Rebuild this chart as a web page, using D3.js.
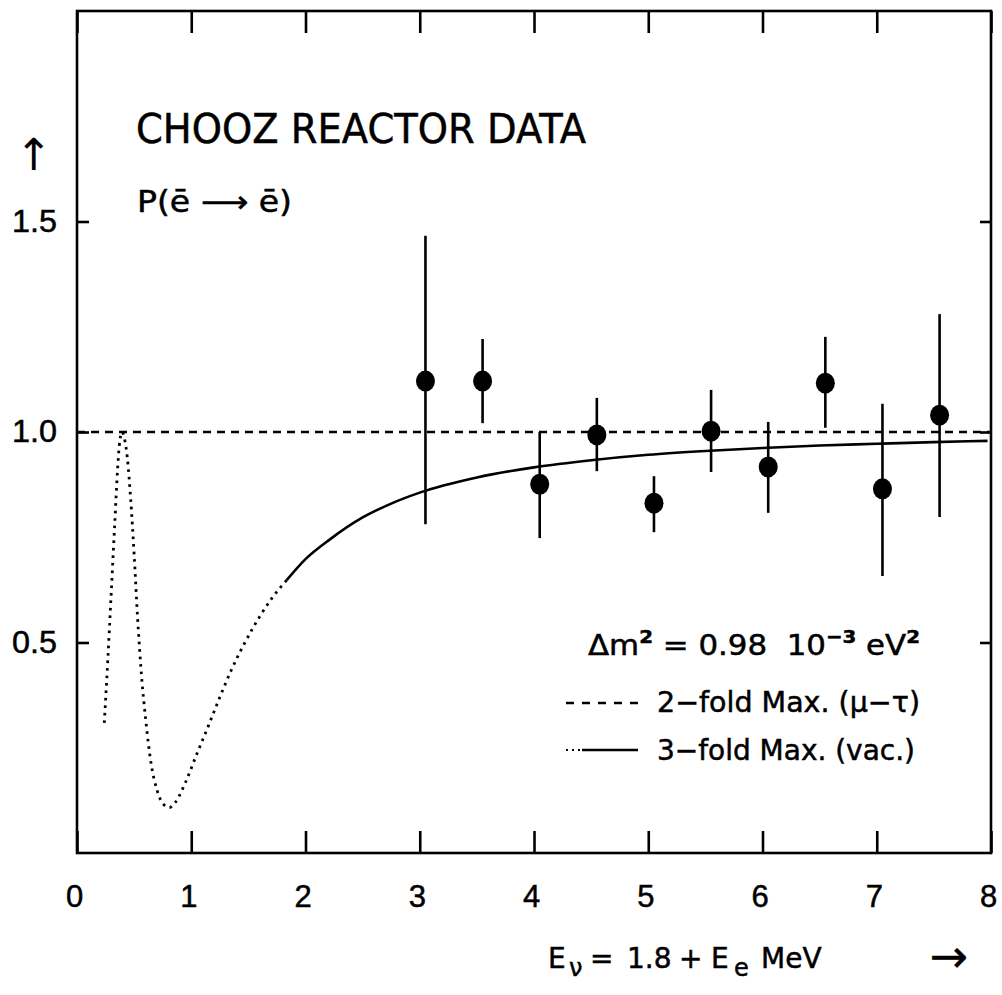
<!DOCTYPE html>
<html>
<head>
<meta charset="utf-8">
<script src="https://cdn.jsdelivr.net/npm/d3@7"></script>
<style>
  body { margin: 0; background: #fff; }
  svg { display: block; font-family: "DejaVu Sans", sans-serif; }
  text { white-space: pre; stroke: #000; stroke-width: 0.5px; }
</style>
</head>
<body>
<div id="chart"></div>
<script>
// measured points: neutrino energy (MeV), ratio, error bar ends
const energies = [3.05, 3.55, 4.05, 4.55, 5.05, 5.55, 6.05, 6.55, 7.05, 7.55];
const ratios   = [1.121, 1.121, 0.876, 0.993, 0.831, 1.002, 0.917, 1.116, 0.865, 1.040];
const errLow   = [0.781, 1.021, 0.748, 0.907, 0.762, 0.905, 0.808, 1.010, 0.658, 0.798];
const errHigh  = [1.466, 1.221, 1.000, 1.081, 0.895, 1.100, 1.024, 1.226, 1.067, 1.280];

// 3-fold maximal curve, dotted below the threshold, solid above
const dottedE = [0.239, 0.270, 0.300, 0.330, 0.355, 0.375, 0.395, 0.415, 0.440, 0.470, 0.500, 0.530,
                 0.565, 0.600, 0.650, 0.700, 0.750, 0.808, 0.860, 0.950, 1.050, 1.150, 1.250, 1.350,
                 1.470, 1.600, 1.700, 1.835];
const dottedP = [0.309, 0.460, 0.620, 0.780, 0.910, 0.980, 1.000, 0.985, 0.940, 0.840, 0.710, 0.560,
                 0.420, 0.320, 0.210, 0.150, 0.118, 0.108, 0.120, 0.168, 0.236, 0.302, 0.370, 0.434,
                 0.500, 0.562, 0.603, 0.648];
const solidE = [1.835, 2.0, 2.214, 2.5, 2.75, 3.0, 3.5, 4.0, 4.5, 5.0, 5.5, 6.0, 6.5, 7.0, 7.5, 7.97];
const solidP = [0.648, 0.698, 0.745, 0.797, 0.830, 0.856, 0.892, 0.916, 0.933, 0.946, 0.955, 0.962,
                0.968, 0.972, 0.976, 0.979];

// 2-fold maximal line
const twoFoldLevel = 1.0;

const xTicks = [0, 1, 2, 3, 4, 5, 6, 7, 8];
const yTicks = [0.5, 1.0, 1.5];

// pieces of the x axis title: text, left edge, subscript?
const xTitle = [["E", 548, false], ["ν", 569, true], ["=", 590, false], ["1.8", 627, false],
                ["+", 679, false], ["E", 711, false], ["e", 734, true], ["MeV", 761, false]];

const width = 1002, height = 995;
const marginLeft = 77, marginRight = 11, marginTop = 11, marginBottom = 142;

const x = d3.scaleLinear([0, 8], [marginLeft, width - marginRight]);
const y = d3.scaleLinear([0, 2], [height - marginBottom, marginTop]);

const svg = d3.select("#chart").append("svg")
    .attr("width", width)
    .attr("height", height)
    .attr("viewBox", [0, 0, width, height]);

const lw = 2.6;

// axes (ticks point inward)
svg.append("g")
    .attr("transform", `translate(0,${y(0)})`)
    .call(d3.axisBottom(x).tickValues(xTicks).tickSize(-22).tickPadding(32).tickFormat(d3.format("d")))
    .call(g => g.select(".domain").remove())
    .call(g => g.selectAll(".tick line").attr("stroke-width", lw))
    .call(g => g.selectAll(".tick text").attr("font-size", 31).attr("fill", "#000").attr("dx", -3));

svg.append("g")
    .attr("transform", `translate(0,${y(2)})`)
    .call(d3.axisTop(x).tickValues(xTicks).tickSize(-22).tickFormat(""))
    .call(g => g.select(".domain").remove())
    .call(g => g.selectAll(".tick line").attr("stroke-width", lw));

svg.append("g")
    .attr("transform", `translate(${x(0)},0)`)
    .call(d3.axisLeft(y).tickValues(yTicks).tickSize(-12).tickPadding(20).tickFormat(d3.format(".1f")))
    .call(g => g.select(".domain").remove())
    .call(g => g.selectAll(".tick line").attr("stroke-width", lw))
    .call(g => g.selectAll(".tick text").attr("font-size", 31).attr("fill", "#000")
        .attr("textLength", 45).attr("lengthAdjust", "spacingAndGlyphs"));

svg.append("g")
    .attr("transform", `translate(${x(8)},0)`)
    .call(d3.axisRight(y).tickValues(yTicks).tickSize(-11).tickFormat(""))
    .call(g => g.select(".domain").remove())
    .call(g => g.selectAll(".tick line").attr("stroke-width", lw));

// frame
svg.append("rect")
    .attr("x", x(0)).attr("y", y(2))
    .attr("width", x(8) - x(0)).attr("height", y(0) - y(2))
    .attr("fill", "none").attr("stroke", "#000").attr("stroke-width", lw);

// 2-fold line
svg.append("line")
    .attr("x1", x(0)).attr("x2", x(8))
    .attr("y1", y(twoFoldLevel)).attr("y2", y(twoFoldLevel))
    .attr("stroke", "#000").attr("stroke-width", lw)
    .attr("stroke-dasharray", "8,6");

// 3-fold curve
const line = d3.line()
    .curve(d3.curveMonotoneX)
    .x(i => i[0])
    .y(i => i[1]);

svg.append("path")
    .attr("d", line(dottedE.map((e, i) => [x(e), y(dottedP[i])])))
    .attr("fill", "none").attr("stroke", "#000").attr("stroke-width", 2.8)
    .attr("stroke-dasharray", "2.6,4.9");

svg.append("path")
    .attr("d", line(solidE.map((e, i) => [x(e), y(solidP[i])])))
    .attr("fill", "none").attr("stroke", "#000").attr("stroke-width", lw);

// error bars and points
const pts = svg.append("g");
pts.selectAll("line")
    .data(energies)
    .join("line")
    .attr("x1", (d) => x(d)).attr("x2", (d) => x(d))
    .attr("y1", (d, i) => y(errLow[i])).attr("y2", (d, i) => y(errHigh[i]))
    .attr("stroke", "#000").attr("stroke-width", lw);

pts.selectAll("ellipse")
    .data(energies)
    .join("ellipse")
    .attr("cx", d => x(d)).attr("cy", (d, i) => y(ratios[i]))
    .attr("rx", 9.5).attr("ry", 10.5)
    .attr("fill", "#000");

// labels
svg.append("text")
    .attr("x", 136).attr("y", 143)
    .attr("font-size", 41)
    .attr("textLength", 450).attr("lengthAdjust", "spacingAndGlyphs")
    .text("CHOOZ REACTOR DATA");

svg.append("text")
    .attr("x", 137).attr("y", 212)
    .attr("font-size", 30)
    .attr("textLength", 155).attr("lengthAdjust", "spacingAndGlyphs")
    .text("P(ē ⟶ ē)");

svg.append("text")
    .attr("x", 34).attr("y", 170)
    .attr("text-anchor", "middle")
    .attr("font-size", 44)
    .style("stroke-width", "0px")
    .text("↑");

// legend
const leg1 = svg.append("text")
    .attr("x", 588).attr("y", 655)
    .attr("font-size", 28)
    .attr("textLength", 332).attr("lengthAdjust", "spacingAndGlyphs");
leg1.append("tspan").text("Δm");
leg1.append("tspan").attr("dy", -12).attr("font-size", 18).attr("font-weight", "bold").text("2");
leg1.append("tspan").attr("dy", 12).text(" = 0.98  10");
leg1.append("tspan").attr("dy", -12).attr("font-size", 18).attr("font-weight", "bold").text("−3");
leg1.append("tspan").attr("dy", 12).text(" eV");
leg1.append("tspan").attr("dy", -12).attr("font-size", 18).attr("font-weight", "bold").text("2");

svg.append("line")
    .attr("x1", 566).attr("x2", 638).attr("y1", 703).attr("y2", 703)
    .attr("stroke", "#000").attr("stroke-width", lw)
    .attr("stroke-dasharray", "8,8");

svg.append("text")
    .attr("x", 657).attr("y", 712)
    .attr("font-size", 28)
    .attr("textLength", 263).attr("lengthAdjust", "spacingAndGlyphs")
    .text("2−fold Max. (μ−τ)");

svg.append("line")
    .attr("x1", 566).attr("x2", 580).attr("y1", 750).attr("y2", 750)
    .attr("stroke", "#000").attr("stroke-width", 2)
    .attr("stroke-dasharray", "2,4");
svg.append("line")
    .attr("x1", 582).attr("x2", 638).attr("y1", 750).attr("y2", 750)
    .attr("stroke", "#000").attr("stroke-width", lw);

svg.append("text")
    .attr("x", 657).attr("y", 760)
    .attr("font-size", 28)
    .attr("textLength", 258).attr("lengthAdjust", "spacingAndGlyphs")
    .text("3−fold Max. (vac.)");

// x axis title
svg.append("g")
    .selectAll("text")
    .data(xTitle)
    .join("text")
    .attr("x", d => d[1])
    .attr("y", d => d[2] ? 976 : 968)
    .attr("font-size", d => d[2] ? 24 : 28)
    .text(d => d[0]);

svg.append("text")
    .attr("x", 949).attr("y", 972)
    .attr("text-anchor", "middle")
    .attr("font-size", 46)
    .style("stroke-width", "0.3px")
    .text("→");
</script>
</body>
</html>
